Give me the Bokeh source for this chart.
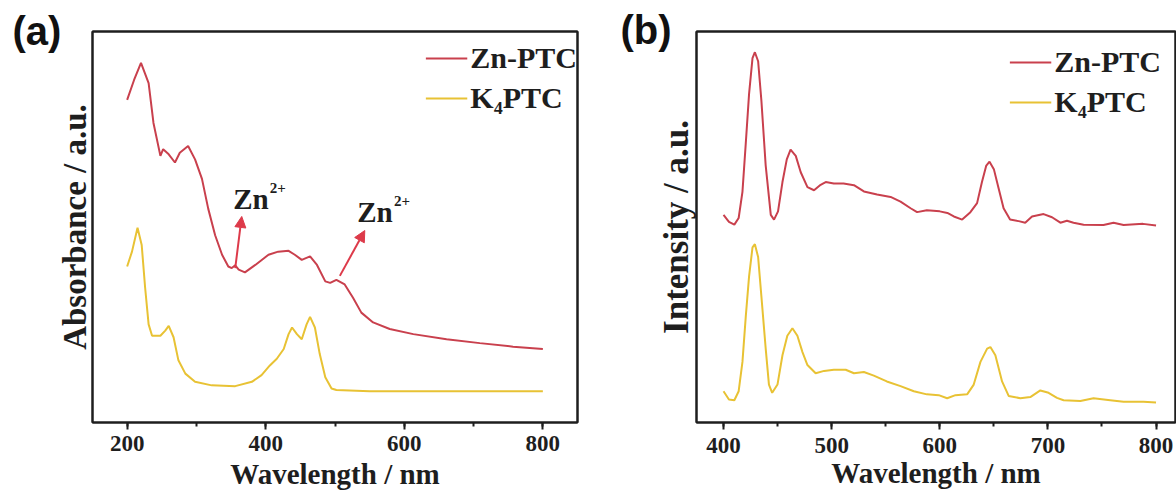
from bokeh.plotting import figure
from bokeh.layouts import row
from bokeh.models import (SingleIntervalTicker, FixedTicker, Label, Arrow, NormalHead,
                          LinearAxis, Title)
from bokeh.embed import file_html
from bokeh.resources import INLINE

# ---------------- Panel (a): UV-vis absorbance ----------------
abs_zn_wl = [200, 210, 220, 231, 238, 248, 252, 260, 269, 276, 288, 298, 308, 317, 327, 337,
             346, 351, 356, 361, 370, 385, 404, 418, 433, 442, 452, 464, 474, 486, 493, 502,
             514, 526, 538, 555, 579, 613, 661, 709, 757, 800]
abs_zn = [0.825, 0.876, 0.920, 0.868, 0.766, 0.682, 0.699, 0.686, 0.665, 0.690, 0.707, 0.673,
          0.623, 0.547, 0.479, 0.429, 0.399, 0.395, 0.402, 0.391, 0.384, 0.403, 0.429, 0.437,
          0.439, 0.429, 0.416, 0.425, 0.403, 0.361, 0.357, 0.365, 0.353, 0.319, 0.281, 0.256,
          0.239, 0.226, 0.213, 0.203, 0.194, 0.188]

abs_k_wl = [200, 207, 215, 221, 226, 231, 236, 248, 255, 260, 267, 274, 284, 298, 322, 356,
            380, 394, 406, 416, 426, 433, 438, 445, 452, 459, 464, 471, 478, 486, 495, 502,
            550, 650, 800]
abs_k = [0.399, 0.437, 0.498, 0.454, 0.344, 0.251, 0.222, 0.222, 0.235, 0.247, 0.218, 0.159,
         0.125, 0.104, 0.095, 0.093, 0.104, 0.121, 0.146, 0.163, 0.188, 0.226, 0.243, 0.226,
         0.213, 0.251, 0.270, 0.243, 0.175, 0.116, 0.087, 0.083, 0.080, 0.080, 0.080]

# ---------------- Panel (b): photoluminescence ----------------
pl_zn_wl = [400, 405, 410, 414, 417.5, 420.6, 423.6, 426.8, 429, 432, 435, 439, 443.7, 446.7,
            450.4, 454.5, 458.5, 462, 466.8, 471.4, 477.6, 483.7, 489.8, 494.5, 502, 511, 520.6,
            529.8, 542, 554.5, 563.7, 573, 579, 588, 600, 607, 613, 620.7, 628.3, 634.5, 639,
            643, 646, 650, 654.5, 659, 665, 673, 679, 685.3, 696, 703.8, 711.5, 717.6, 723.7,
            733, 751.4, 760.7, 770, 788, 800]
pl_zn = [0.531, 0.513, 0.506, 0.523, 0.590, 0.715, 0.840, 0.932, 0.947, 0.924, 0.824, 0.657,
         0.531, 0.519, 0.540, 0.615, 0.673, 0.698, 0.682, 0.640, 0.602, 0.594, 0.608, 0.615,
         0.611, 0.611, 0.607, 0.591, 0.583, 0.577, 0.565, 0.548, 0.538, 0.543, 0.540, 0.536,
         0.527, 0.519, 0.538, 0.561, 0.615, 0.657, 0.667, 0.648, 0.598, 0.548, 0.519, 0.515,
         0.511, 0.527, 0.533, 0.525, 0.511, 0.516, 0.511, 0.506, 0.505, 0.511, 0.505, 0.508,
         0.504]

pl_k_wl = [400, 405, 410, 414, 417.5, 420.6, 423.6, 426.8, 429, 432, 435, 439, 442, 445, 449.9,
           454.5, 459, 463.7, 468.3, 473, 477.6, 485.2, 493, 502, 513, 520.6, 529.8, 539, 551,
           563.7, 576, 588, 599, 606.8, 614.5, 625.3, 631.4, 637.6, 643.8, 646.8, 651.4, 657.6,
           663.7, 674.5, 683.7, 693, 700.6, 708.4, 714.5, 730, 742.2, 757.6, 770, 788.4, 800]
pl_k = [0.080, 0.059, 0.057, 0.080, 0.155, 0.272, 0.373, 0.448, 0.456, 0.423, 0.323, 0.189,
        0.097, 0.076, 0.097, 0.172, 0.222, 0.241, 0.222, 0.180, 0.147, 0.126, 0.132, 0.135,
        0.135, 0.126, 0.129, 0.120, 0.105, 0.093, 0.080, 0.072, 0.070, 0.062, 0.070, 0.072,
        0.097, 0.155, 0.189, 0.193, 0.172, 0.105, 0.068, 0.062, 0.065, 0.082, 0.076, 0.063,
        0.057, 0.055, 0.062, 0.057, 0.053, 0.053, 0.051]

series_names = ["Zn-PTC", "K\u2084PTC"]
panel_tags = ["(a)", "(b)"]
x_title = "Wavelength / nm"
y_title_a = "Absorbance / a.u."
y_title_b = "Intensity / a.u."

RED = "#c9404d"
YEL = "#e8c234"
ARROW_RED = "#dd3a4a"
SERIF = "Liberation Serif"
INK = "#1e1e1e"


def frame_axis(p, place):
    ax = LinearAxis(ticker=FixedTicker(ticks=[]), axis_line_color=INK, axis_line_width=2,
                    major_tick_out=0, major_tick_in=0, minor_tick_out=0, minor_tick_in=0,
                    major_label_standoff=0, major_label_text_font_size="0px")
    p.add_layout(ax, place)


def style(p, interval, ylab_size, ylab_standoff, lab_std, title_std,
          leg_margin, leg_title_size):
    p.xgrid.visible = False
    p.ygrid.visible = False
    p.outline_line_color = INK
    p.outline_line_width = 2
    p.xaxis.ticker = SingleIntervalTicker(interval=interval, num_minor_ticks=2)
    p.yaxis.ticker = FixedTicker(ticks=[])
    for ax in (p.xaxis[0], p.yaxis[0]):
        ax.axis_line_color = INK
        ax.axis_line_width = 2
        ax.major_tick_line_color = INK
        ax.major_tick_line_width = 2
        ax.minor_tick_line_color = INK
        ax.minor_tick_line_width = 2
        ax.major_tick_in = 0
        ax.minor_tick_in = 0
        ax.major_label_text_font = SERIF
        ax.major_label_text_font_style = "bold"
        ax.major_label_text_font_size = "23px"
        ax.major_label_text_color = INK
        ax.axis_label_text_font = SERIF
        ax.axis_label_text_font_style = "bold"
        ax.axis_label_text_color = INK
    p.xaxis.major_tick_out = 7
    p.xaxis.minor_tick_out = 4
    p.yaxis.major_tick_out = 0
    p.yaxis.minor_tick_out = 0
    p.xaxis.major_label_standoff = lab_std
    p.xaxis.axis_label_standoff = title_std
    p.xaxis.axis_label_text_font_size = "29px"
    p.yaxis.axis_label_text_font_size = ylab_size
    p.yaxis.axis_label_standoff = ylab_standoff
    frame_axis(p, "above")
    frame_axis(p, "right")
    leg = p.legend[0]
    leg.location = "top_right"
    leg.border_line_color = None
    leg.background_fill_alpha = 0
    leg.label_text_font = SERIF
    leg.label_text_font_style = "bold"
    leg.label_text_font_size = "30px"
    leg.label_text_color = INK
    leg.glyph_width = 42
    leg.label_standoff = 3
    leg.spacing = 6
    leg.margin = leg_margin
    leg.padding = 10
    if leg_title_size:
        leg.title = " "
        leg.title_text_font_size = leg_title_size
        leg.title_standoff = 0


def tag(p, text, offset, standoff, line_height=1.0):
    p.add_layout(Title(text=text, align="left", vertical_align="top", offset=offset,
                       standoff=standoff, text_font="Liberation Sans", text_font_style="bold",
                       text_font_size="40px", text_color="#111",
                       text_line_height=line_height), "above")


# ---- figure (a)
pa = figure(width=608, height=493, x_range=(150, 850), y_range=(0, 1),
            output_backend="svg", toolbar_location=None,
            min_border_left=92, min_border_right=31, min_border_top=31, min_border_bottom=67,
            x_axis_label=x_title, y_axis_label=y_title_a)
pa.line(abs_zn_wl, abs_zn, line_color=RED, line_width=2, legend_label=series_names[0])
pa.line(abs_k_wl, abs_k, line_color=YEL, line_width=2, legend_label=series_names[1])
style(pa, 200, "33px", 0, 6, 4, 0, "9px")
tag(pa, "\n" + panel_tags[0], -80, -64, 0.22)

for (zx, zy, sx, sy) in [(353, 0.572, 406, 0.600), (532, 0.539, 585, 0.567)]:
    pa.add_layout(Label(x=zx, y=zy, text="Zn", text_font=SERIF, text_font_style="bold",
                        text_font_size="29px", text_baseline="middle", text_color=INK))
    pa.add_layout(Label(x=sx, y=sy, text="2+", text_font=SERIF, text_font_style="bold",
                        text_font_size="15px", text_baseline="middle", text_color=INK))
for (x0, y0, x1, y1) in [(356, 0.395, 365.4, 0.527), (507, 0.375, 543, 0.491)]:
    pa.add_layout(Arrow(x_start=x0, y_start=y0, x_end=x1, y_end=y1, line_color=ARROW_RED,
                        line_width=2,
                        end=NormalHead(size=11, fill_color=ARROW_RED, line_color=ARROW_RED)))

# ---- figure (b)
pb = figure(width=568, height=493, x_range=(375, 818), y_range=(0, 1),
            output_backend="svg", toolbar_location=None,
            min_border_left=88, min_border_right=1, min_border_top=23, min_border_bottom=71,
            x_axis_label=x_title, y_axis_label=y_title_b)
pb.line(pl_zn_wl, pl_zn, line_color=RED, line_width=2, legend_label=series_names[0])
pb.line(pl_k_wl, pl_k, line_color=YEL, line_width=2, legend_label=series_names[1])
style(pb, 100, "35px", 1, 8, 1, 14, None)
tag(pb, panel_tags[1], -76, -45)

p = row(pa, pb)
open("out.html", "w").write(file_html(p, INLINE))
